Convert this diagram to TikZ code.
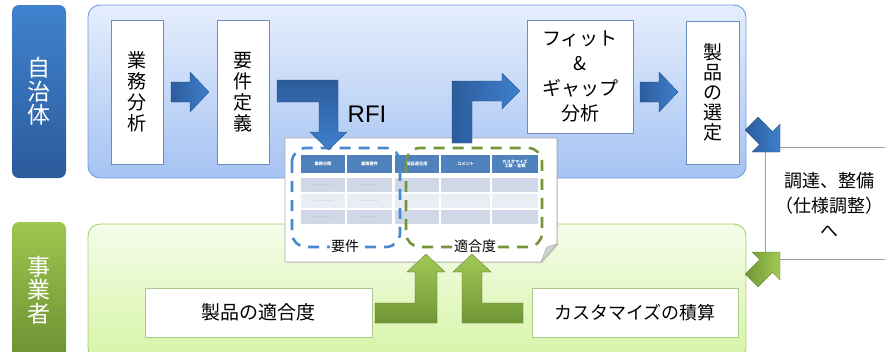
\documentclass[tikz,border=0pt]{standalone}
\usepackage{fontspec}
\setmainfont{Noto Sans CJK JP}
\newfontfamily\latinfont{Liberation Sans}
\usetikzlibrary{shadows}
\definecolor{jtop}{HTML}{4082CE}
\definecolor{jbot}{HTML}{2B5B9B}
\definecolor{ptop}{HTML}{E5EEFC}
\definecolor{pbot}{HTML}{A6C3F3}
\definecolor{pborder}{HTML}{6C9BDF}
\definecolor{gtop}{HTML}{9FC64E}
\definecolor{gbot}{HTML}{6C9133}
\definecolor{gptop}{HTML}{F5FCEB}
\definecolor{gpbot}{HTML}{D6F4A6}
\definecolor{gpborder}{HTML}{A8CF6E}
\definecolor{bdark}{HTML}{2C5C9C}
\definecolor{blight}{HTML}{3E80CD}
\definecolor{wborder}{HTML}{6B8DBE}
\definecolor{gborder}{HTML}{ADC98A}
\definecolor{hdr}{HTML}{4F81BD}
\definecolor{rowa}{HTML}{D0D8E8}
\definecolor{rowb}{HTML}{E9EDF4}
\definecolor{dashblue}{HTML}{4A88D2}
\definecolor{dashgreen}{HTML}{76953A}
\definecolor{arrgtop}{HTML}{A2C955}
\definecolor{arrgbot}{HTML}{6F9636}
\begin{document}
\begin{tikzpicture}[x=1pt,y=-1pt,
  labbox/.style={rounded corners=7pt, minimum width=54pt, text=white, align=center,
    inner sep=0pt, font=\fontsize{23}{23.5}\selectfont},
  panelbox/.style={rounded corners=12pt, line width=0.9pt, inner sep=0pt},
  wbox/.style={draw=wborder, fill=white, line width=0.8pt, align=center, inner sep=0pt,
    font=\fontsize{19}{21}\selectfont},
  gwbox/.style={draw=gborder, fill=white, line width=0.8pt, align=center, inner sep=0pt,
    font=\fontsize{19}{21}\selectfont},
  barrh/.style={draw=bdark!80!black, line width=0.3pt, left color=bdark, right color=blight},
  barrv/.style={draw=bdark!80!black, line width=0.3pt, top color=bdark, bottom color=blight},
  garr/.style={draw=arrgbot!80!black, line width=0.3pt, top color=arrgtop, bottom color=arrgbot},
  hdrtext/.style={text=white, font=\fontsize{4.2}{4.6}\selectfont\bfseries, align=center, inner sep=0pt},
  dottext/.style={text=gray, font=\fontsize{4.5}{4.5}\selectfont, inner sep=0pt},
  dashbox/.style={line width=2.6pt, rounded corners=14pt, dash pattern=on 11pt off 8pt},
  sheetlab/.style={fill=white, inner sep=1.5pt, font=\fontsize{14}{14}\selectfont}
]
\useasboundingbox (0,0) rectangle (885,351);

% panels
\node[panelbox, draw=pborder, top color=ptop, bottom color=pbot,
  minimum width=658pt, minimum height=173pt] (toppanel) at (417,91.5) {};
\node[panelbox, draw=gpborder, top color=gptop, bottom color=gpbot,
  minimum width=658pt, minimum height=136pt] (botpanel) at (417,292) {};

% side labels
\node[labbox, top color=jtop, bottom color=jbot, minimum height=173pt] (jichitai) at (39,91.5) {自\\治\\体};
\node[labbox, top color=gtop, bottom color=gbot, minimum height=136pt] (jigyosha) at (39,290) {事\\業\\者};

% top row boxes
\node[wbox, minimum width=52pt, minimum height=144pt] (gyomu) at (137,92) {業\\務\\分\\析};
\node[wbox, minimum width=52pt, minimum height=144pt] (yoken) at (243,92) {要\\件\\定\\義};
\node[wbox, minimum width=106pt, minimum height=113pt, font=\fontsize{19}{25}\selectfont] (fit) at (580,76.5) {フィット\\\&\\ギャップ\\分析};
\node[wbox, minimum width=53pt, minimum height=143pt, font=\fontsize{19}{20}\selectfont] (senteil) at (712.5,92.5) {製\\品\\の\\選\\定};

% straight arrows
\path[barrh] (171,82) -- (190,82) -- (190,72) -- (209,92) -- (190,112) -- (190,102) -- (171,102) -- cycle;
\path[barrh] (640,82) -- (659,82) -- (659,72) -- (678,92) -- (659,112) -- (659,102) -- (640,102) -- cycle;

% sheet
\path[fill=white, draw=gray!65, line width=0.7pt, drop shadow={shadow xshift=1.2pt, shadow yshift=-1.2pt, opacity=0.25}]
  (285,138) -- (557,138) -- (557,244) -- (541,262) -- (285,262) -- cycle;
\path[fill=gray!35, draw=gray!65, line width=0.5pt] (557,244) -- (541,262) .. controls (544,255) and (545,250) .. (547,247) -- cycle;

% table
\foreach \a/\b in {301/345, 347/392, 395/439, 441/490, 492/538} {
  \fill[hdr] (\a,155) rectangle (\b,173);
  \fill[rowa] (\a,178) rectangle (\b,192);
  \fill[rowb] (\a,194) rectangle (\b,208);
  \fill[rowa] (\a,210) rectangle (\b,224);
}
\node[hdrtext] (h1) at (323,164) {業務分類};
\node[hdrtext] (h2) at (369.5,164) {業務要件};
\node[hdrtext] (h3) at (417,164) {製品適合度};
\node[hdrtext] (h4) at (465.5,164) {コメント};
\node[hdrtext] (h5) at (515,164) {カスタマイズ\\工数・金額};
\foreach \cx in {323,369.5} {
  \foreach \cy in {185,201,217} {
    \node[dottext] at (\cx,\cy) {…………};
  }
}

% dashed groups
\draw[dashbox, draw=dashblue] (292,148) rectangle (400,247);
\draw[dashbox, draw=dashgreen] (406,148) rectangle (542,247);
\node[sheetlab] (yokenlab) at (345,246) {要件};
\node[sheetlab] (tekigolab) at (475,246) {適合度};

% bent arrows
\path[barrv] (277,80) -- (338,80) -- (338,132) -- (347,132) -- (328.5,150) -- (310,132) -- (319,132) -- (319,102) -- (277,102) -- cycle;
\node[font=\latinfont\fontsize{24}{24}\selectfont, inner sep=0pt] (rfi) at (367,114) {RFI};
\path[barrh] (452,143) -- (452,81) -- (502,81) -- (502,73) -- (520,91) -- (502,109) -- (502,101) -- (472,101) -- (472,143) -- cycle;

% bottom boxes
\node[gwbox, minimum width=227pt, minimum height=49pt] (tekigo) at (258.5,312.5) {製品の適合度};
\node[gwbox, minimum width=206pt, minimum height=49pt, font=\fontsize{18}{20}\selectfont] (custom) at (635,312.5) {カスタマイズの積算};

% green up arrows
\path[garr] (375,303) -- (415,303) -- (415,272) -- (407,272) -- (426,254) -- (445,272) -- (437,272) -- (437,323) -- (375,323) -- cycle;
\path[garr] (523,303) -- (482,303) -- (482,272) -- (491,272) -- (472,254) -- (453,272) -- (462,272) -- (462,323) -- (523,323) -- cycle;

% procurement box
\draw[gray!75, line width=0.9pt] (885,147) -- (765,147) -- (765,259) -- (885,259);
\node[align=center, inner sep=0pt, font=\fontsize{18}{25}\selectfont] (chotatsu) at (829,205) {調達、整備\\（仕様調整）\\へ};

% diagonal arrows
\path[draw=bdark!80!black, line width=0.3pt, left color=bdark, right color=blight]
  (780,152) -- (752,152) -- (759.6,144.4) -- (745.1,129.9) -- (757.9,117.1) -- (772.4,131.6) -- (780,124) -- cycle;
\path[draw=arrgbot!80!black, line width=0.3pt, left color=arrgbot, right color=arrgtop]
  (780,252) -- (780,280) -- (772.4,272.4) -- (757.9,286.9) -- (745.1,274.1) -- (759.6,259.6) -- (752,252) -- cycle;
\end{tikzpicture}
\end{document}
